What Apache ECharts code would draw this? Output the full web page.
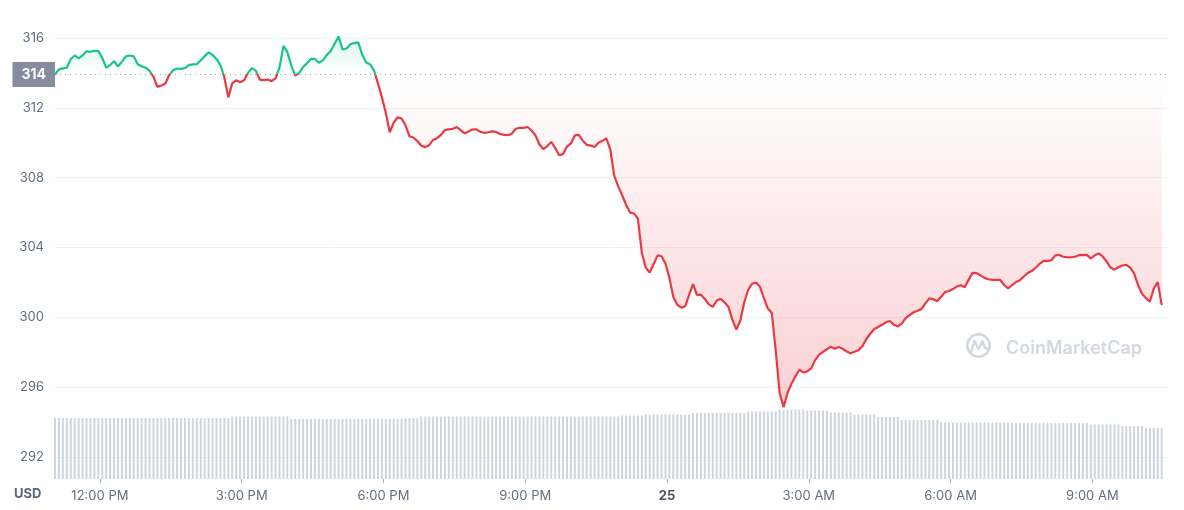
<!DOCTYPE html>
<html><head><meta charset="utf-8">
<script src="https://cdn.jsdelivr.net/npm/echarts@6.0.0/dist/echarts.min.js"></script>
<style>html,body{margin:0;padding:0;background:#fff;}#chart{width:1184px;height:510px;}</style>
</head><body><div id="chart"></div>
<script>
// ---- data ----  (times: [day of Feb 2023, hour, minute])
const startTime = [24, 11, 3];
const endAxisTime = [25, 10, 36];
const stepMinutes = 5;
const openPrice = 313.91;
const openLabel = '314';
const currency = 'USD';

const priceValues = [
 313.91,314.2,314.26,314.3,314.8,315.0,314.83,315.0,315.24,315.21,
 315.27,315.25,314.86,314.3,314.45,314.67,314.37,314.65,314.95,315.0,
 314.95,314.5,314.38,314.3,314.12,313.78,313.2,313.28,313.38,313.88,
 314.15,314.25,314.23,314.28,314.45,314.49,314.5,314.73,314.96,315.18,
 315.03,314.8,314.45,313.75,312.6,313.4,313.58,313.47,313.58,314.0,
 314.28,314.12,313.62,313.59,313.62,313.53,313.7,314.3,315.55,315.2,
 314.42,313.84,314.0,314.34,314.56,314.8,314.8,314.58,314.72,315.02,
 315.25,315.67,316.1,315.35,315.4,315.64,315.71,315.75,315.05,314.6,
 314.49,314.15,313.4,312.6,311.7,310.6,311.15,311.46,311.38,311.0,
 310.37,310.3,310.1,309.83,309.75,309.86,310.16,310.26,310.45,310.73,
 310.77,310.8,310.9,310.72,310.54,310.65,310.76,310.77,310.62,310.57,
 310.6,310.65,310.62,310.5,310.45,310.43,310.52,310.8,310.86,310.85,
 310.9,310.7,310.42,309.9,309.63,309.8,310.05,309.7,309.28,309.35,
 309.78,309.96,310.42,310.45,310.12,309.88,309.84,309.76,310.0,310.11,
 310.25,309.6,308.1,307.5,307.0,306.45,306.0,305.95,305.65,303.7,
 302.85,302.57,303.05,303.55,303.5,303.08,302.25,301.17,300.72,300.55,
 300.63,301.28,301.9,301.28,301.3,301.05,300.74,300.6,300.95,301.06,
 300.86,300.6,299.85,299.3,299.8,300.85,301.58,301.92,302.0,301.75,
 301.1,300.5,300.25,298.1,295.65,294.85,295.68,296.2,296.62,297.0,
 296.85,296.9,297.07,297.55,297.85,298.02,298.17,298.32,298.2,298.3,
 298.2,298.04,297.94,298.03,298.12,298.35,298.75,299.06,299.33,299.45,
 299.57,299.72,299.79,299.57,299.48,299.64,299.95,300.13,300.29,300.38,
 300.47,300.8,301.09,301.04,300.92,301.18,301.45,301.51,301.62,301.77,
 301.84,301.72,302.16,302.55,302.53,302.4,302.26,302.18,302.15,302.15,
 302.14,301.85,301.65,301.85,302.02,302.13,302.34,302.54,302.65,302.84,
 303.06,303.24,303.22,303.27,303.55,303.57,303.47,303.45,303.44,303.47,
 303.56,303.56,303.58,303.37,303.55,303.66,303.49,303.2,302.85,302.73,
 302.87,302.97,303.0,302.85,302.5,301.85,301.35,301.1,300.9,301.65,
 302.02,300.7
];

const volumeValues = [
 610,610,610,610,610,610,610,610,610,610,
 610,610,610,610,610,610,610,610,610,610,
 610,610,610,610,610,610,610,610,610,610,
 610,610,610,610,610,610,610,610,610,610,
 610,610,610,610,610,625,625,625,625,625,
 625,625,625,625,625,625,625,625,625,625,
 600,600,600,600,600,600,600,600,600,600,
 600,600,600,600,600,600,600,600,600,600,
 600,600,600,600,600,600,600,600,600,610,
 610,610,610,625,625,625,625,625,625,625,
 625,625,625,625,625,625,625,625,625,625,
 625,625,625,625,625,625,625,625,625,625,
 625,625,625,625,625,625,625,625,625,625,
 625,625,625,625,625,625,625,625,625,625,
 625,625,625,625,635,635,635,635,635,635,
 645,645,645,645,645,645,645,645,645,645,
 645,645,660,660,660,660,660,660,660,660,
 660,660,660,660,660,660,675,675,675,675,
 675,675,675,675,695,695,695,695,695,695,
 695,685,685,685,685,685,685,665,665,665,
 665,665,665,645,645,645,645,645,645,620,
 620,620,620,620,620,590,590,590,590,590,
 590,590,590,590,590,565,565,565,565,565,
 565,565,565,565,565,565,565,565,565,565,
 565,565,565,560,560,560,560,560,560,560,
 560,560,560,560,560,560,560,560,560,560,
 560,560,560,545,545,545,545,545,545,545,
 545,530,530,530,530,530,530,512,512,512,
 512,512
];

const tickTimes = [[24,12,0],[24,15,0],[24,18,0],[24,21,0],[25,0,0],[25,3,0],[25,6,0],[25,9,0]];
const tickLabels = ['12:00 PM','3:00 PM','6:00 PM','9:00 PM','25','3:00 AM','6:00 AM','9:00 AM'];
const boldTicks = ['25'];

const priceMin = 292, priceMax = 316, priceStep = 4;

// ---- build ----  x = minutes since 24 Feb 00:00
const mk = a => (a[0] - 24) * 1440 + a[1] * 60 + a[2];
const t0 = mk(startTime);
const tEnd = mk(endAxisTime);
const times = priceValues.map((_, i) => t0 + i * stepMinutes);
const priceData = times.map((t, i) => [t, priceValues[i]]);
const volumeData = times.map((t, i) => [t, volumeValues[i]]);
const tickMs = tickTimes.map(mk);

const green = '#16c784', red = '#ea3943';
const pMax = Math.max(...priceValues), pMin = Math.min(...priceValues);
const font = 'Inter';
const labelColor = '#616e85';

const chart = echarts.init(document.getElementById('chart'), null, {renderer: 'canvas'});
chart.setOption({
  animation: false,
  backgroundColor: '#ffffff',
  textStyle: {fontFamily: font},
  grid: [
    {left: 55, right: 16, top: 38, bottom: 53},
    {left: 55, right: 16, top: 399, bottom: 31}
  ],
  xAxis: [
    {type: 'value', gridIndex: 0, min: t0, max: tEnd, show: false, splitLine: {show: false}},
    {type: 'value', gridIndex: 1, min: t0, max: tEnd,
     axisLine: {show: false},
     splitLine: {show: false},
     axisTick: {show: true, customValues: tickMs, length: 4, lineStyle: {color: '#a3acbd', width: 1}},
     axisLabel: {
       customValues: tickMs, margin: 11, fontSize: 13, color: labelColor, fontFamily: font,
       formatter: function (v) {
         let i = tickMs.findIndex(t => Math.abs(t - v) < 0.5);
         if (i < 0) return '';
         const s = tickLabels[i];
         return boldTicks.includes(s) ? '{b|' + s + '}' : s;
       },
       rich: {b: {fontWeight: 'bold', fontSize: 13, color: '#4d5566', fontFamily: font}}
     }}
  ],
  yAxis: [
    {type: 'value', gridIndex: 0, min: priceMin, max: priceMax, interval: priceStep,
     axisLine: {show: false}, axisTick: {show: false},
     axisLabel: {margin: 11, fontSize: 13, color: labelColor, fontFamily: font},
     splitLine: {lineStyle: {color: '#eff2f5', width: 1}}},
    {type: 'value', gridIndex: 1, min: 0, max: 800, show: false, splitLine: {show: false}}
  ],
  series: [
    {
      id: 'price', type: 'line', xAxisIndex: 0, yAxisIndex: 0, data: priceData,
      showSymbol: false, symbol: 'none', clip: false, z: 3,
      lineStyle: {width: 2.2, color: red},
      areaStyle: {origin: openPrice, color: 'rgba(0,0,0,0)'},
      markLine: {
        silent: true, symbol: ['none', 'none'],
        lineStyle: {type: [1, 4], color: '#9aa1b1', width: 1},
        label: {
          position: 'start', distance: 0, formatter: openLabel,
          backgroundColor: '#858ca2', color: '#ffffff', fontWeight: 'bold',
          fontSize: 14, fontFamily: font, padding: [6, 9, 5, 9], lineHeight: 14
        },
        data: [{yAxis: openPrice}]
      }
    },
    {
      type: 'bar', xAxisIndex: 1, yAxisIndex: 1, data: volumeData,
      barWidth: 2, silent: true, itemStyle: {color: '#cfd5df'}
    }
  ],
  graphic: [
    {type: 'text', left: 14, top: 488, style: {text: currency, font: 'bold 13px Inter', fill: '#58667e'}},
    {type: 'circle', shape: {cx: 978.5, cy: 345.5, r: 11.2}, style: {fill: 'none', stroke: '#d3d8e0', lineWidth: 2.6}, z: 1},
    {type: 'polyline', shape: {points: [[971, 352], [974.5, 341], [978.5, 349], [982.5, 341], [985, 348], [988, 349]]},
     style: {fill: 'none', stroke: '#d3d8e0', lineWidth: 2.4, lineJoin: 'round'}, z: 1},
    {type: 'text', x: 1006, y: 348.5, style: {text: 'CoinMarketCap', font: '600 18px Inter', fill: '#d3d8e0', textVerticalAlign: 'middle'}, z: 1}
  ]
});

// colour split at the opening price, using pixel positions from the axis scale
const yTop = chart.convertToPixel({yAxisIndex: 0}, pMax);
const yBase = chart.convertToPixel({yAxisIndex: 0}, openPrice);
const yBot = chart.convertToPixel({yAxisIndex: 0}, pMin);
const fb = (yBase - yTop) / (yBot - yTop);
const G = echarts.graphic.LinearGradient;
chart.setOption({
  series: [{
    id: 'price',
    lineStyle: {color: new G(0, yTop, 0, yBot, [
      {offset: 0, color: green}, {offset: fb, color: green},
      {offset: fb, color: red}, {offset: 1, color: red}], true)},
    areaStyle: {origin: openPrice, color: new G(0, yTop, 0, yBot, [
      {offset: 0, color: 'rgba(22,199,132,0.22)'}, {offset: fb, color: 'rgba(22,199,132,0)'},
      {offset: fb, color: 'rgba(234,57,67,0)'}, {offset: 1, color: 'rgba(234,57,67,0.34)'}], true)}
  }]
});
</script></body></html>
